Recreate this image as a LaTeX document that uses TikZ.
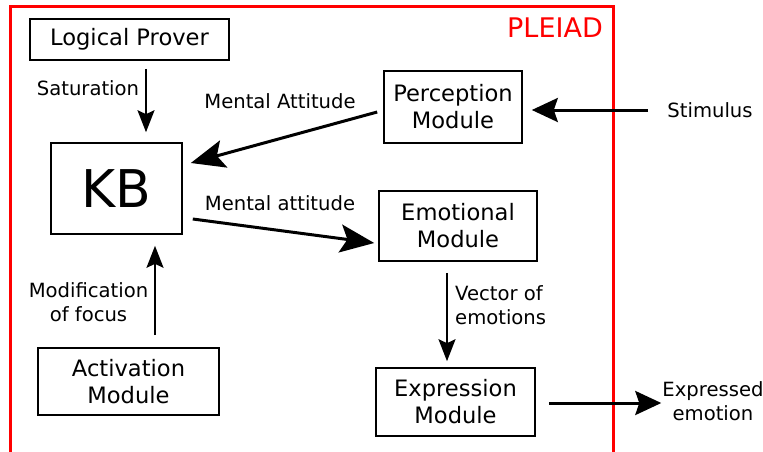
\documentclass[tikz,border=0pt]{standalone}
\usepackage{fontspec}
\setmainfont{DejaVu Sans}
\usetikzlibrary{arrows.meta}
\begin{document}
\begin{tikzpicture}[x=1pt,y=-1pt,
 box/.style={draw, line width=1.6pt, inner sep=0pt, align=center, font=\fontsize{22.6}{27}\selectfont},
 lbl/.style={align=center, inner sep=0pt, font=\fontsize{19.6}{24}\selectfont},
 bigarrow/.style={-{Stealth[length=34pt,width=28pt,inset=7pt]}, line width=3pt},
 midarrow/.style={-{Stealth[length=26pt,width=24pt,inset=4pt]}, line width=3pt},
 smallarrow/.style={-{Stealth[length=22pt,width=17pt,inset=4pt]}, line width=2.2pt}]
\useasboundingbox (0,0) rectangle (763,451);
\draw[red, line width=3pt] (10,460) -- (10,6) -- (613,6) -- (613,460);
\node[red, inner sep=0pt, font=\fontsize{27}{32}\selectfont] (pleiad) at (555,28) {PLEIAD};

\node[box, minimum width=199pt, minimum height=41pt] (lp) at (129.5,39.5) {Logical Prover};
\node[box, minimum width=131pt, minimum height=91pt, font=\fontsize{52}{60}\selectfont] (kb) at (116.5,188.5) {KB};
\node[box, minimum width=138pt, minimum height=72pt] (perc) at (453,107) {Perception\\Module};
\node[box, minimum width=158pt, minimum height=70pt] (emo) at (458,226) {Emotional\\Module};
\node[box, minimum width=159pt, minimum height=68pt] (expr) at (455.5,402) {Expression\\Module};
\node[box, minimum width=181pt, minimum height=67pt] (act) at (128.5,381.5) {Activation\\Module};

\node[lbl] (sat) at (88,88) {Saturation};
\node[lbl] (ma1) at (280,101) {Mental Attitude};
\node[lbl] (ma2) at (280,203) {Mental attitude};
\node[lbl] (stim) at (710,110) {Stimulus};
\node[lbl, align=left, anchor=west] (vec) at (455,305.5) {Vector of\\emotions};
\node[lbl] (mod) at (88.5,302) {Modification\\of focus};
\node[lbl] (exd) at (713,401.5) {Expressed\\emotion};

\draw[smallarrow] ([xshift=16.5pt,yshift=-8pt]lp.south) -- ([xshift=29.5pt,yshift=10pt]kb.north);
\draw[bigarrow] ([xshift=-6pt,yshift=-5pt]perc.west) -- ([xshift=8pt,yshift=25.5pt]kb.east);
\draw[bigarrow] ([xshift=10pt,yshift=-30.5pt]kb.east) -- ([xshift=-4pt,yshift=-17pt]emo.west);
\draw[midarrow] ([xshift=-19pt]stim.west) -- ([xshift=9pt,yshift=-3pt]perc.east);
\draw[smallarrow] ([xshift=-11pt,yshift=-11pt]emo.south) -- ([xshift=-8.5pt,yshift=6pt]expr.north);
\draw[midarrow] ([xshift=13pt,yshift=-1pt]expr.east) -- ([xshift=-1pt,yshift=-1.5pt]exd.west);
\draw[smallarrow] ([xshift=26.5pt,yshift=12pt]act.north) -- ([xshift=38.5pt,yshift=-11pt]kb.south);
\end{tikzpicture}
\end{document}
